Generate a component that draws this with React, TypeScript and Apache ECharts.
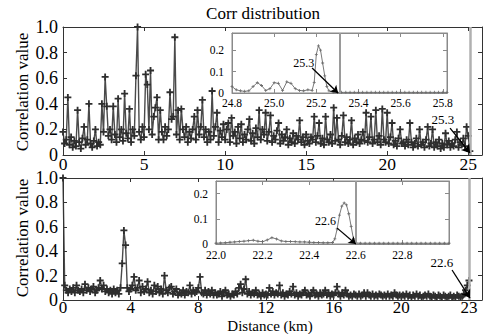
import React, { useEffect, useRef } from 'react';
import * as echarts from 'echarts';

const FONT = 'Liberation Serif, DejaVu Serif, serif';

// ---------- data ----------
const titleText = 'Corr distribution';
const yName = 'Correlation value';
const xName = 'Distance (km)';

// top panel: correlation sampled every 0.1 km from 0 km
const topStepKm = 0.1;
const topValues = [
  0.18, 0.09, 0.12, 0.45, 0.08, 0.14, 0.06, 0.11, 0.07, 0.35,
  0.1, 0.05, 0.13, 0.22, 0.08, 0.12, 0.4, 0.09, 0.06, 0.11,
  0.2, 0.07, 0.1, 0.08, 0.4, 0.18, 0.61, 0.38, 0.15, 0.2,
  0.12, 0.38, 0.16, 0.1, 0.44, 0.14, 0.2, 0.11, 0.48, 0.17,
  0.13, 0.36, 0.1, 0.2, 0.15, 0.62, 1.0, 0.18, 0.12, 0.22,
  0.14, 0.63, 0.55, 0.2, 0.66, 0.16, 0.3, 0.37, 0.45, 0.12,
  0.35, 0.18, 0.12, 0.22, 0.15, 0.2, 0.49, 0.28, 0.3, 0.92,
  0.16, 0.35, 0.12, 0.36, 0.2, 0.14, 0.22, 0.1, 0.18, 0.13,
  0.2, 0.3, 0.12, 0.35, 0.16, 0.22, 0.43, 0.14, 0.2, 0.1,
  0.18, 0.12, 0.5, 0.15, 0.22, 0.33, 0.1, 0.19, 0.14, 0.24,
  0.12, 0.2, 0.25, 0.1, 0.29, 0.15, 0.18, 0.09, 0.22, 0.13,
  0.24, 0.1, 0.16, 0.12, 0.2, 0.28, 0.11, 0.17, 0.09, 0.21,
  0.14, 0.35, 0.12, 0.2, 0.16, 0.33, 0.11, 0.18, 0.31, 0.1,
  0.15, 0.12, 0.19, 0.25, 0.09, 0.16, 0.11, 0.14, 0.2, 0.08,
  0.13, 0.1, 0.17, 0.09, 0.15, 0.12, 0.27, 0.1, 0.14, 0.08,
  0.16, 0.11, 0.09, 0.14, 0.12, 0.3, 0.1, 0.15, 0.25, 0.09,
  0.13, 0.08, 0.3, 0.12, 0.1, 0.16, 0.09, 0.37, 0.11, 0.29,
  0.12, 0.08, 0.15, 0.31, 0.1, 0.14, 0.09, 0.12, 0.27, 0.08,
  0.13, 0.1, 0.16, 0.09, 0.12, 0.18, 0.11, 0.33, 0.1, 0.14,
  0.3, 0.09, 0.12, 0.35, 0.1, 0.15, 0.08, 0.36, 0.12, 0.1,
  0.33, 0.09, 0.14, 0.25, 0.08, 0.11, 0.07, 0.13, 0.2, 0.09,
  0.1, 0.07, 0.12, 0.08, 0.25, 0.1, 0.06, 0.09, 0.13, 0.07,
  0.2, 0.08, 0.1, 0.06, 0.12, 0.22, 0.07, 0.09, 0.2, 0.06,
  0.1, 0.07, 0.12, 0.05, 0.09, 0.06, 0.17, 0.08, 0.11, 0.06,
  0.09, 0.07, 0.12, 0.18, 0.06, 0.1, 0.08, 0.13, 0.07, 0.22,
  0.15, 0.03,
];
const topEndKm = 25.1;
const topTickLabels = ['0', '5', '10', '15', '20', '25'];

// bottom panel: sampled every 0.1 (axis units as drawn)
const bottomStepKm = 0.1;
const bottomValues = [
  1.0, 0.12, 0.08, 0.06, 0.09, 0.07, 0.1, 0.06, 0.12, 0.08,
  0.07, 0.09, 0.06, 0.13, 0.08, 0.1, 0.07, 0.09, 0.11, 0.06,
  0.08, 0.1, 0.16, 0.09, 0.12, 0.07, 0.09, 0.06, 0.08, 0.05,
  0.09, 0.06, 0.08, 0.05, 0.1, 0.3, 0.57, 0.45, 0.1, 0.07,
  0.09, 0.12, 0.19, 0.08, 0.1, 0.16, 0.06, 0.11, 0.07, 0.09,
  0.15, 0.06, 0.08, 0.05, 0.12, 0.07, 0.11, 0.06, 0.09, 0.05,
  0.2, 0.08, 0.06, 0.1, 0.11, 0.05, 0.07, 0.09, 0.04, 0.06,
  0.05, 0.08, 0.04, 0.07, 0.06, 0.12, 0.05, 0.08, 0.06, 0.07,
  0.1, 0.19, 0.06, 0.05, 0.08, 0.04, 0.07, 0.05, 0.08, 0.04,
  0.06, 0.04, 0.05, 0.07, 0.03, 0.06, 0.08, 0.04, 0.05, 0.03,
  0.05, 0.04, 0.07, 0.05, 0.1, 0.13, 0.06, 0.09, 0.17, 0.05,
  0.07, 0.04, 0.06, 0.05, 0.08, 0.04, 0.05, 0.03, 0.06, 0.04,
  0.05, 0.04, 0.1, 0.05, 0.07, 0.04, 0.06, 0.05, 0.12, 0.04,
  0.06, 0.03, 0.05, 0.04, 0.07, 0.05, 0.11, 0.04, 0.06, 0.03,
  0.05, 0.04, 0.06, 0.08, 0.04, 0.05, 0.03, 0.06, 0.08, 0.04,
  0.05, 0.03, 0.06, 0.04, 0.05, 0.08, 0.04, 0.06, 0.03, 0.05,
  0.04, 0.06, 0.11, 0.05, 0.03, 0.06, 0.04, 0.08, 0.05, 0.03,
  0.04, 0.03, 0.05, 0.04, 0.03, 0.05, 0.03, 0.04, 0.06, 0.03,
  0.06, 0.04, 0.03, 0.05, 0.03, 0.04, 0.03, 0.05, 0.04, 0.03,
  0.04, 0.03, 0.05, 0.03, 0.04, 0.03, 0.06, 0.04, 0.03, 0.04,
  0.03, 0.04, 0.03, 0.05, 0.03, 0.04, 0.02, 0.04, 0.03, 0.05,
  0.03, 0.04, 0.02, 0.03, 0.04, 0.03, 0.05, 0.03, 0.02, 0.04,
  0.03, 0.02, 0.04, 0.03, 0.02, 0.04, 0.03, 0.02, 0.03, 0.04,
  0.02, 0.03, 0.02, 0.04, 0.03, 0.02, 0.03, 0.05, 0.08, 0.12,
  0.16,
];
const bottomEndKm = 24.0;
const bottomTickValues = [0, 4, 8, 12, 16, 20, 24];
const bottomTickLabels = ['0', '4', '8', '12', '16', '20', '23'];

// top inset (zoom 24.8 - 25.8 km)
const topInsetKm = [
  24.8, 24.82, 24.84, 24.86, 24.88, 24.9, 24.92, 24.94, 24.96, 24.98,
  25.0, 25.02, 25.04, 25.06, 25.08, 25.1, 25.12, 25.14, 25.16, 25.18,
  25.19, 25.2, 25.21, 25.22, 25.23, 25.24, 25.25, 25.26, 25.28, 25.3,
  25.32, 25.34, 25.36, 25.38, 25.4, 25.42, 25.44, 25.46, 25.48, 25.5,
  25.52, 25.54, 25.56, 25.58, 25.6, 25.62, 25.64, 25.66, 25.68, 25.7,
  25.72, 25.74, 25.76, 25.78, 25.8, 25.82,
];
const topInsetVal = [
  0.03, 0.015, 0.01, 0.008, 0.01, 0.03, 0.048, 0.035, 0.012, 0.02,
  0.048, 0.045, 0.012, 0.052, 0.045, 0.02, 0.012, 0.01, 0.015, 0.012,
  0.05, 0.18, 0.22, 0.2, 0.14, 0.08, 0.03, 0.01, 0.004, 0.003,
  0.003, 0.003, 0.003, 0.003, 0.003, 0.003, 0.003, 0.003, 0.003, 0.003,
  0.003, 0.003, 0.003, 0.003, 0.003, 0.003, 0.003, 0.003, 0.003, 0.003,
  0.003, 0.003, 0.003, 0.003, 0.003, 0.003,
];
const topInsetEndKm = 25.31;

// bottom inset (zoom 22.0 - 23.0 km)
const bottomInsetKm = [
  22.0, 22.02, 22.04, 22.06, 22.08, 22.1, 22.12, 22.14, 22.16, 22.18,
  22.2, 22.22, 22.24, 22.26, 22.28, 22.3, 22.32, 22.34, 22.36, 22.38,
  22.4, 22.42, 22.44, 22.46, 22.48, 22.5,
  22.51, 22.52, 22.53, 22.54, 22.55, 22.56, 22.57, 22.58, 22.59, 22.6,
  22.62, 22.64, 22.66, 22.68, 22.7, 22.72, 22.74, 22.76, 22.78, 22.8,
  22.82, 22.84, 22.86, 22.88, 22.9, 22.92, 22.94, 22.96, 22.98, 23.0,
];
const bottomInsetVal = [
  0.003, 0.004, 0.005, 0.007, 0.008, 0.01, 0.011, 0.013, 0.015, 0.011,
  0.009, 0.016, 0.025, 0.02, 0.012, 0.01, 0.01, 0.009, 0.008, 0.008,
  0.007, 0.006, 0.006, 0.005, 0.005, 0.006,
  0.02, 0.06, 0.115, 0.15, 0.163, 0.155, 0.12, 0.07, 0.02, 0.004,
  0.003, 0.003, 0.003, 0.003, 0.003, 0.003, 0.003, 0.003, 0.003, 0.003,
  0.003, 0.003, 0.003, 0.003, 0.003, 0.003, 0.003, 0.003, 0.003, 0.003,
];
const bottomInsetEndKm = 22.6;

// annotations: [label, labelX, labelY, arrowFromX, arrowFromY, arrowToX, arrowToY]
const topMainNote = ['25.3', 23.44, 0.28, 23.88, 0.21, 25.11, 0.016];
const topInsetNote = ['25.3', 25.14, 0.14, 25.18, 0.117, 25.303, 0.0];
const bottomMainNote = ['22.6', 22.4, 0.31, 23.0, 0.246, 24.06, 0.016];
const bottomInsetNote = ['22.6', 22.47, 0.091, 22.52, 0.063, 22.6, 0.0];

// ---------- styling helpers ----------
const PLUS = 'path://M0,3.7H10V6.3H0ZM3.7,0H6.3V10H3.7Z';
const MAIN_AX = '#333';
const INSET_AX = '#8a8a8a';

const fmtY = (v: number) => (Math.abs(v) < 1e-9 ? '0' : v.toFixed(1));

function axisCommon(color: string) {
  return {
    type: 'value' as const,
    splitLine: { show: false },
    axisLine: { show: true, onZero: false, lineStyle: { color, width: 1 } },
    axisTick: { show: true, inside: true, length: 4, lineStyle: { color } },
  };
}

function xAxes(grid: number, min: number, max: number, interval: number, color: string, fontSize: number, margin: number, formatter: (v: number) => string, z: number) {
  return [
    {
      ...axisCommon(color), gridIndex: grid, min, max, interval, position: 'bottom', z,
      axisLabel: { show: true, fontSize, fontFamily: FONT, color: '#000', margin, showMaxLabel: false, formatter },
    },
    {
      ...axisCommon(color), gridIndex: grid, min, max, interval, position: 'top', z,
      axisLabel: { show: false },
    },
  ];
}

function yAxes(grid: number, min: number, max: number, interval: number, color: string, fontSize: number, margin: number, showMax: boolean, z: number) {
  return [
    {
      ...axisCommon(color), gridIndex: grid, min, max, interval, position: 'left', z,
      axisLabel: { show: true, fontSize, fontFamily: FONT, color: '#000', margin, showMaxLabel: showMax, formatter: fmtY },
    },
    {
      ...axisCommon(color), gridIndex: grid, min, max, interval, position: 'right', z,
      axisLabel: { show: false },
    },
  ];
}

function notes(n: (string | number)[], endKm: number, yMax: number, endColor: string, endWidth: number, fontSize: number, arrowSize: number, z: number) {
  const [label, lx, ly, fx, fy, tx, ty] = n as [string, number, number, number, number, number, number];
  return {
    markLine: {
      silent: true,
      animation: false,
      z,
      symbol: ['none', 'arrow'],
      symbolSize: arrowSize,
      label: { show: false },
      lineStyle: { color: '#000', width: 1.3, type: 'solid' },
      data: [
        [
          { coord: [endKm, 0], symbol: 'none', lineStyle: { color: endColor, width: endWidth, type: 'solid' } },
          { coord: [endKm, yMax], symbol: 'none' },
        ],
        [{ coord: [fx, fy] }, { coord: [tx, ty] }],
      ],
    },
    markPoint: {
      silent: true,
      animation: false,
      z: z + 1,
      symbol: 'circle',
      symbolSize: 1,
      itemStyle: { color: 'rgba(0,0,0,0)' },
      label: { show: true, position: 'inside', color: '#000', fontSize, fontFamily: FONT, formatter: '{b}' },
      data: [{ name: label, coord: [lx, ly] }],
    },
  };
}

export default function App() {
  const ref = useRef<HTMLDivElement>(null);

  useEffect(() => {
    if (!ref.current) return;
    const chart = echarts.init(ref.current, undefined, { renderer: 'svg' });

    const topData = topValues.map((v, i) => [+(i * topStepKm).toFixed(2), v]);
    const bottomData = bottomValues.map((v, i) => [+(i * bottomStepKm).toFixed(2), v]);
    const topInsetData = topInsetKm.map((k, i) => [k, topInsetVal[i]]);
    const bottomInsetData = bottomInsetKm.map((k, i) => [k, bottomInsetVal[i]]);

    const topFmt = (v: number) => {
      const i = Math.round(v / 5);
      return Math.abs(v - i * 5) < 1e-6 && topTickLabels[i] != null ? topTickLabels[i] : '';
    };
    const bottomFmt = (v: number) => {
      const i = bottomTickValues.findIndex((t) => Math.abs(t - v) < 1e-6);
      return i >= 0 ? bottomTickLabels[i] : '';
    };
    const insetFmt = (v: number) => v.toFixed(1);

    const option: any = {
      animation: false,
      backgroundColor: '#fff',
      textStyle: { fontFamily: FONT },
      grid: [
        { left: 63, top: 27, width: 419, height: 128, outerBoundsMode: 'none' },
        { left: 232, top: 33, width: 215, height: 60, show: true, backgroundColor: '#fff', borderColor: INSET_AX, borderWidth: 1, z: 10, outerBoundsMode: 'none' },
        { left: 63, top: 178, width: 419, height: 122, outerBoundsMode: 'none' },
        { left: 216, top: 181, width: 233, height: 63, show: true, backgroundColor: '#fff', borderColor: INSET_AX, borderWidth: 1, z: 10, outerBoundsMode: 'none' },
      ],
      xAxis: [
        ...xAxes(0, 0, 25.85, 5, MAIN_AX, 17.5, 0, topFmt, 3),
        ...xAxes(1, 24.8, 25.82, 0.2, INSET_AX, 11.5, 4, insetFmt, 11),
        ...xAxes(2, 0, 24.77, 4, MAIN_AX, 17, -1, bottomFmt, 3),
        ...xAxes(3, 22.0, 23.0, 0.2, INSET_AX, 11.5, 5, insetFmt, 11),
      ],
      yAxis: [
        ...yAxes(0, 0, 1, 0.2, MAIN_AX, 18, 5, true, 3),
        ...yAxes(1, 0, 0.28, 0.1, INSET_AX, 11.5, 8, false, 11),
        ...yAxes(2, 0, 1, 0.2, MAIN_AX, 18, 5, true, 3),
        ...yAxes(3, 0, 0.25, 0.1, INSET_AX, 11.5, 8, false, 11),
      ],
      series: [
        {
          type: 'line', xAxisIndex: 0, yAxisIndex: 0, data: topData, z: 2,
          symbol: PLUS, symbolSize: 7, showSymbol: true, showAllSymbol: true,
          lineStyle: { color: '#4a4a4a', width: 1.4 }, itemStyle: { color: '#2e2e2e' },
          ...notes(topMainNote, topEndKm, 1, '#b0b0b0', 2.5, 13, 8, 5),
        },
        {
          type: 'line', xAxisIndex: 2, yAxisIndex: 2, data: topInsetData, z: 12,
          symbol: PLUS, symbolSize: 3, showSymbol: true, showAllSymbol: true,
          lineStyle: { color: '#7a7a7a', width: 1 }, itemStyle: { color: '#6a6a6a' },
          ...notes(topInsetNote, topInsetEndKm, 0.28, '#9a9a9a', 2, 12, 7, 14),
        },
        {
          type: 'line', xAxisIndex: 4, yAxisIndex: 4, data: bottomData, z: 2,
          symbol: PLUS, symbolSize: 7, showSymbol: true, showAllSymbol: true,
          lineStyle: { color: '#4a4a4a', width: 1.4 }, itemStyle: { color: '#2e2e2e' },
          ...notes(bottomMainNote, bottomEndKm, 1, '#b0b0b0', 2.5, 13, 8, 5),
        },
        {
          type: 'line', xAxisIndex: 6, yAxisIndex: 6, data: bottomInsetData, z: 12,
          symbol: PLUS, symbolSize: 3, showSymbol: true, showAllSymbol: true,
          lineStyle: { color: '#7a7a7a', width: 1 }, itemStyle: { color: '#6a6a6a' },
          ...notes(bottomInsetNote, bottomInsetEndKm, 0.25, '#9a9a9a', 2, 12, 7, 14),
        },
      ],
      graphic: [
        {
          type: 'text', x: 263, y: 13, z: 20,
          style: { text: titleText, fontSize: 17, fontFamily: FONT, fill: '#000', align: 'center', verticalAlign: 'middle' },
        },
        {
          type: 'text', x: 22, y: 92, rotation: Math.PI / 2, z: 20,
          style: { text: yName, fontSize: 17, fontFamily: FONT, fill: '#000', align: 'center', verticalAlign: 'middle' },
        },
        {
          type: 'text', x: 22, y: 238, rotation: Math.PI / 2, z: 20,
          style: { text: yName, fontSize: 17, fontFamily: FONT, fill: '#000', align: 'center', verticalAlign: 'middle' },
        },
        {
          type: 'text', x: 270, y: 326, z: 20,
          style: { text: xName, fontSize: 15, fontFamily: FONT, fill: '#000', align: 'center', verticalAlign: 'middle' },
        },
      ],
    };

    chart.setOption(option);
    return () => chart.dispose();
  }, []);

  return <div ref={ref} style={{ position: 'fixed', left: 0, top: 0, width: 483, height: 334 }} />;
}
